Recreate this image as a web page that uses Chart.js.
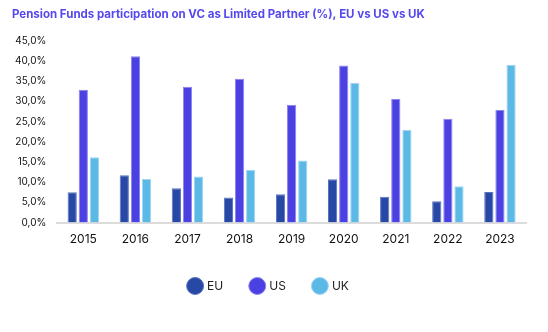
<!DOCTYPE html>
<html>
<head>
<meta charset="utf-8">
<script src="https://cdn.jsdelivr.net/npm/chart.js@4"></script>
<style>
  html, body { margin: 0; padding: 0; background: #fff; }
  #wrap { width: 548px; height: 332px; position: relative; }
</style>
</head>
<body>
<div id="wrap"><canvas id="lpChart"></canvas></div>
<script>
const years = ["2015", "2016", "2017", "2018", "2019", "2020", "2021", "2022", "2023"];
const euValues = [7.5, 11.7, 8.5, 6.2, 7.0, 10.7, 6.4, 5.3, 7.6];
const usValues = [32.9, 41.2, 33.6, 35.6, 29.2, 38.9, 30.6, 25.7, 27.9];
const ukValues = [16.2, 10.8, 11.4, 13.0, 15.4, 34.6, 22.9, 9.0, 39.1];

const ctx = document.getElementById("lpChart").getContext("2d");

function pct(v) {
  return v.toFixed(1).replace(".", ",") + "%";
}

function series(label, data, color, edge) {
  return {
    label: label,
    data: data,
    backgroundColor: color,
    borderColor: edge,
    borderWidth: 1,
    barPercentage: 0.83,
    categoryPercentage: 0.64
  };
}

new Chart(ctx, {
  type: "bar",
  data: {
    labels: years,
    datasets: [
      series("EU", euValues, "#2848a6", "#5a74bd"),
      series("US", usValues, "#4b40e2", "#8c84ee"),
      series("UK", ukValues, "#5cb9e6", "#9ed6f1")
    ]
  },
  options: {
    responsive: true,
    maintainAspectRatio: false,
    animation: false,
    layout: { padding: { left: 12, right: 22, top: 6, bottom: 30 } },
    plugins: {
      title: {
        display: true,
        text: "Pension Funds participation on VC as Limited Partner (%), EU vs US vs UK",
        align: "start",
        color: "#5548ee",
        font: { family: "Inter", size: 11.5, weight: "bold" },
        padding: { top: 2, bottom: 19 }
      },
      legend: {
        position: "bottom",
        labels: {
          usePointStyle: true,
          pointStyle: "circle",
          boxWidth: 20,
          boxHeight: 20,
          padding: 28,
          color: "#222",
          font: { family: "Inter", size: 12 }
        }
      },
      tooltip: { enabled: false }
    },
    scales: {
      x: {
        grid: { display: false },
        border: { color: "#dcdcdc", width: 2 },
        ticks: { color: "#111", font: { family: "Inter", size: 12 }, padding: 2 },
        // leave room between the year labels and the legend
        afterFit: scale => { scale.height += 3; }
      },
      y: {
        min: 0,
        max: 45,
        grid: { display: false },
        border: { display: false },
        ticks: {
          stepSize: 5,
          color: "#111",
          font: { family: "Inter", size: 10 },
          callback: v => pct(v)
        }
      }
    }
  }
});
</script>
</body>
</html>
